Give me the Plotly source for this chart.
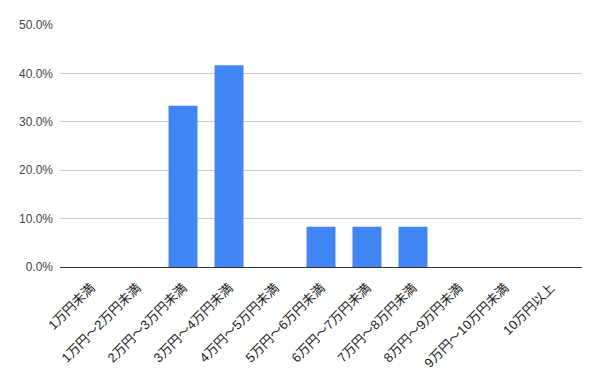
import plotly.graph_objects as go

categories = ["1万円未満", "1万円～2万円未満", "2万円～3万円未満", "3万円～4万円未満",
              "4万円～5万円未満", "5万円～6万円未満", "6万円～7万円未満", "7万円～8万円未満",
              "8万円～9万円未満", "9万円～10万円未満", "10万円以上"]
values = [0, 0, 0.3333, 0.4167, 0, 0.0833, 0.0833, 0.0833, 0, 0, 0]
y_ticks = [0, 0.1, 0.2, 0.3, 0.4, 0.5]
y_labels = ["0.0%", "10.0%", "20.0%", "30.0%", "40.0%", "50.0%"]

fig = go.Figure(go.Bar(x=list(range(len(categories))), y=values,
                       marker=dict(color="#4285f4", line=dict(width=0)),
                       width=0.63))
fig.update_layout(
    width=600, height=371,
    margin=dict(l=60, r=18, t=25, b=104),
    paper_bgcolor="white", plot_bgcolor="white",
    font=dict(family="Arial, Liberation Sans, Noto Sans CJK JP", size=12, color="#333333"),
    showlegend=False,
)
fig.update_xaxes(
    tickmode="array", tickvals=list(range(len(categories))), ticktext=categories,
    tickangle=-45, range=[-0.675, 10.675], showgrid=False, automargin=False,
    showline=True, linecolor="#333333", linewidth=1, ticks="",
    ticklabelstandoff=7,
    tickfont=dict(size=13, color="#222222"),
)
fig.update_yaxes(
    tickmode="array", tickvals=y_ticks, ticktext=y_labels, range=[0, 0.5],
    showgrid=True, gridcolor="#cccccc", gridwidth=1, zeroline=False, automargin=False,
    ticks="", ticklabelstandoff=6, tickfont=dict(size=12, color="#444444"),
)
fig.write_html("out.html")
